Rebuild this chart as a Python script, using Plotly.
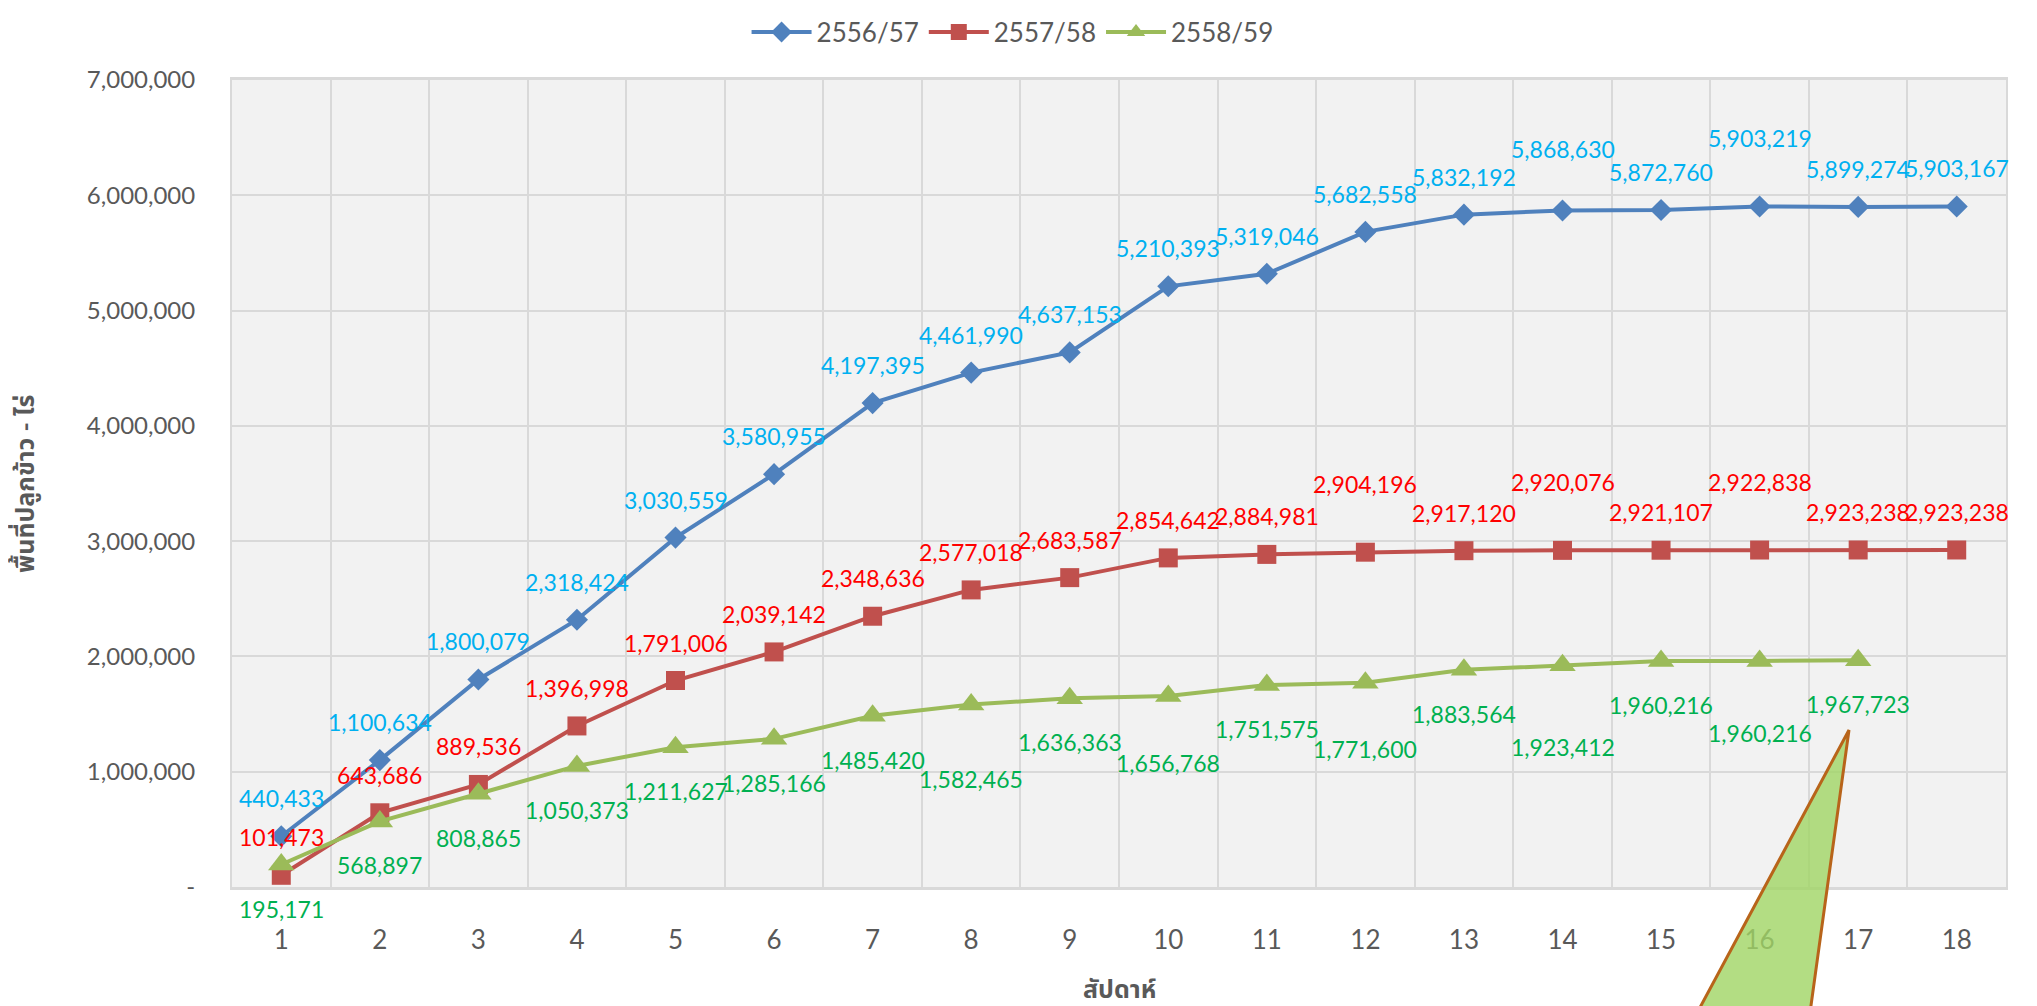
import plotly.graph_objects as go

weeks = list(range(1, 19))
series_names = ['2556/57', '2557/58', '2558/59']
y5657 = [440433, 1100634, 1800079, 2318424, 3030559, 3580955, 4197395, 4461990, 4637153,
         5210393, 5319046, 5682558, 5832192, 5868630, 5872760, 5903219, 5899274, 5903167]
y5758 = [101473, 643686, 889536, 1396998, 1791006, 2039142, 2348636, 2577018, 2683587,
         2854642, 2884981, 2904196, 2917120, 2920076, 2921107, 2922838, 2923238, 2923238]
y5859 = [195171, 568897, 808865, 1050373, 1211627, 1285166, 1485420, 1582465, 1636363,
         1656768, 1751575, 1771600, 1883564, 1923412, 1960216, 1960216, 1967723]
ytick_vals = [0, 1000000, 2000000, 3000000, 4000000, 5000000, 6000000, 7000000]
ytick_text = ['-', '1,000,000', '2,000,000', '3,000,000', '4,000,000', '5,000,000', '6,000,000', '7,000,000']

# label offsets in pixels (excel labels were dragged around by hand)
shift_5657 = [38] * 18
shift_5657[13] = 61
shift_5657[15] = 68
shift_5758 = [38] * 18
for i in (11, 13, 15):
    shift_5758[i] = 68
shift_5859 = [-44] * 17
for i, s in ((7, -74), (9, -67), (11, -66), (13, -82), (15, -72)):
    shift_5859[i] = s

FONT = "Lato, 'Noto Sans Thai', 'Noto Sans', sans-serif"
GRID = '#D9D9D9'
TXT = '#595959'

styles = [
    dict(y=y5657, color='#4F81BD', symbol='diamond', size=17, label='#00B0F0', shifts=shift_5657),
    dict(y=y5758, color='#C0504D', symbol='square', size=19, label='#FF0000', shifts=shift_5758),
    dict(y=y5859, color='#9BBB59', symbol='triangle-up', size=23, label='#00B050', shifts=shift_5859),
]

fig = go.Figure()
annotations = []
for name, st in zip(series_names, styles):
    xs = weeks[:len(st['y'])]
    fig.add_trace(go.Scatter(
        x=xs, y=st['y'], name=name, mode='lines+markers',
        line=dict(color=st['color'], width=4),
        marker=dict(color=st['color'], symbol=st['symbol'], size=st['size'])
    ))
    for x, v, s in zip(xs, st['y'], st['shifts']):
        annotations.append(dict(
            x=x, y=v, xref='x', yref='y', text=f'{v:,}', showarrow=False,
            yshift=s, font=dict(family=FONT, size=23, color=st['label'])
        ))

annotations.append(dict(
    x=-0.117, y=0.5, xref='paper', yref='paper', text='<b>พื้นที่ปลูกข้าว - ไร่</b>',
    textangle=-90, showarrow=False, xanchor='center', yanchor='middle',
    font=dict(family=FONT, size=25, color=TXT)
))
annotations.append(dict(
    x=0.5, y=-0.125, xref='paper', yref='paper', text='<b>สัปดาห์</b>',
    showarrow=False, xanchor='center', yanchor='middle',
    font=dict(family=FONT, size=25, color=TXT)
))

# page body adds an 8px margin, so shift the plot area up/left by that much
fig.update_layout(
    width=2037, height=1006,
    margin=dict(l=224, r=39, t=72, b=127, autoexpand=False),
    paper_bgcolor='white', plot_bgcolor='#F2F2F2',
    font=dict(family=FONT, color=TXT, size=24),
    showlegend=True,
    legend=dict(orientation='h', x=0.44, xanchor='center', y=1.0885, yanchor='top',
                font=dict(size=26, color=TXT), itemwidth=60, bgcolor='rgba(0,0,0,0)'),
    annotations=annotations,
    xaxis=dict(
        range=[0.5, 18.5], tickvals=weeks, showgrid=False, zeroline=False,
        ticks='outside', ticklen=28, tickcolor='rgba(0,0,0,0)',
        tickfont=dict(size=26, color=TXT),
        showline=True, linecolor=GRID, linewidth=3, mirror=True,
        minor=dict(tickvals=[w + 0.5 for w in weeks], showgrid=True, gridcolor=GRID, gridwidth=2),
    ),
    yaxis=dict(
        range=[0, 7000000], tickvals=ytick_vals, ticktext=ytick_text,
        showgrid=True, gridcolor=GRID, gridwidth=2, zeroline=False,
        ticks='outside', ticklen=30, tickcolor='rgba(0,0,0,0)',
        tickfont=dict(size=24, color=TXT),
        showline=True, linecolor=GRID, linewidth=2, mirror=True,
    ),
    # stray callout triangle from the original sheet
    shapes=[dict(
        type='path', xref='paper', yref='paper', layer='above',
        path='M 0.9115 0.1945 L 0.8200 -0.1800 L 0.8880 -0.1800 Z',
        fillcolor='rgba(160,212,100,0.8)', line=dict(color='#B8641A', width=3)
    )],
)

fig.write_html('out.html')
